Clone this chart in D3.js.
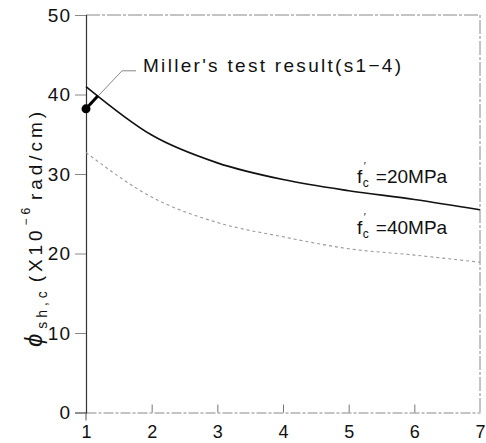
<!DOCTYPE html>
<html>
<head>
<meta charset="utf-8">
<script src="https://cdn.jsdelivr.net/npm/d3@7"></script>
<style>
  html, body { margin: 0; padding: 0; background: #fff; }
  svg { display: block; font-family: "Liberation Sans", Arial, sans-serif; }
</style>
</head>
<body>
<svg id="chart" width="486" height="443"></svg>
<script>
// ---- data ----
const xValues = [1, 2, 3, 4, 5, 6, 7];
const fc20 = [41.0, 34.9, 31.4, 29.3, 27.9, 26.8, 25.5];
const fc40 = [32.7, 27.1, 23.9, 22.1, 20.6, 19.8, 18.9];
const millerX = [1];
const millerY = [38.2];
const xTicks = [1, 2, 3, 4, 5, 6, 7];
const yTicks = [0, 10, 20, 30, 40, 50];
const seriesLabels = ["20MPa", "40MPa"];
const millerLabel = "Miller's test result(s1\u22124)";

// ---- layout ----
const svg = d3.select("#chart");
const x = d3.scaleLinear().domain([1, 7]).range([86, 480]);
const y = d3.scaleLinear().domain([0, 50]).range([412.5, 15]);

// frame (top and right borders)
svg.append("path")
  .attr("d", `M${x(1)},${y(50)}H${x(7)}V${y(0)}`)
  .attr("fill", "none").attr("stroke", "#888").attr("stroke-width", 1)
  .attr("stroke-dasharray", "14,2,3,2");

// bottom axis
const xAxis = d3.axisBottom(x).tickValues(xTicks).tickSize(0).tickPadding(0).tickFormat(d3.format("d"));
const gx = svg.append("g").attr("transform", `translate(0,${y(0)})`).call(xAxis);
gx.select(".domain").attr("stroke", "#888").attr("stroke-dasharray", "10,2,3,2");
gx.selectAll(".tick text").attr("font-size", 18).attr("fill", "#111")
  .attr("font-family", "Liberation Sans, Arial, sans-serif").attr("y", 25.5).attr("dy", 0);
// inward x ticks
gx.selectAll(".tick").filter(d => d > 1 && d < 7).append("line")
  .attr("y1", 0).attr("y2", -8).attr("stroke", "#777").attr("stroke-width", 1);
// downward tick at x=1
svg.append("line").attr("x1", x(1)).attr("x2", x(1)).attr("y1", y(0)).attr("y2", y(0) + 8)
  .attr("stroke", "#555");

// left axis
const yAxis = d3.axisLeft(y).tickValues(yTicks).tickSize(11).tickPadding(4).tickFormat(d3.format("d"));
const gy = svg.append("g").attr("transform", `translate(${x(1)},0)`).call(yAxis);
gy.select(".domain").attr("stroke", "#333").attr("stroke-width", 1.2);
gy.selectAll(".tick line").attr("stroke", "#888");
gy.selectAll(".tick text").attr("font-size", 19).attr("fill", "#111")
  .attr("font-family", "Liberation Sans, Arial, sans-serif").attr("letter-spacing", 1);

// curves
const line = d3.line().x((d, i) => x(xValues[i])).y(d => y(d)).curve(d3.curveMonotoneX);
svg.append("path").datum(fc20).attr("d", line)
  .attr("fill", "none").attr("stroke", "#111").attr("stroke-width", 1.6);
svg.append("path").datum(fc40).attr("d", line)
  .attr("fill", "none").attr("stroke", "#999").attr("stroke-width", 1.1)
  .attr("stroke-dasharray", "3,3");

// Miller point + leader
const mx = x(millerX[0]), my = y(millerY[0]);
svg.append("polyline")
  .attr("points", `${mx},${my} ${mx + 36},${my - 38} ${mx + 50},${my - 38}`)
  .attr("fill", "none").attr("stroke", "#888").attr("stroke-width", 1);
svg.append("line").attr("x1", mx).attr("y1", my).attr("x2", mx + 12).attr("y2", my - 13)
  .attr("stroke", "#000").attr("stroke-width", 3);
svg.append("circle").attr("cx", mx).attr("cy", my).attr("r", 4.5).attr("fill", "#000");
svg.append("text").attr("x", mx + 57).attr("y", my - 37)
  .attr("font-size", 19).attr("fill", "#111")
  .attr("textLength", 258).attr("lengthAdjust", "spacing")
  .text(millerLabel);

// series labels
function fcLabel(yBase, label) {
  const t = svg.append("text").attr("x", 357).attr("y", yBase).attr("font-size", 19).attr("fill", "#111");
  t.append("tspan").text("f");
  t.append("tspan").attr("font-size", 12).attr("dx", 0.5).attr("dy", 4).text("c");
  t.append("tspan").attr("font-size", 11).attr("dx", -5).attr("dy", -17).text("\u2032");
  t.append("tspan").attr("dx", 10).attr("dy", 13).text("=" + label);
}
fcLabel(183, seriesLabels[0]);
fcLabel(234, seriesLabels[1]);

// y axis title (built left to right in rotated frame)
const yt = svg.append("text")
  .attr("transform", "translate(42,0) rotate(-90)")
  .attr("x", -347).attr("y", 0)
  .attr("font-size", 19).attr("fill", "#111");
yt.append("tspan").attr("font-size", 24).attr("font-style", "italic").text("\u03D5");
yt.append("tspan").attr("font-size", 14).attr("dy", 5).attr("dx", 1).text("sh,c");
yt.append("tspan").attr("dy", -5).attr("dx", 5).text("(X10");
yt.append("tspan").attr("font-size", 12).attr("dy", -12).attr("dx", 1).text("\u22126");
yt.append("tspan").attr("dy", 12).attr("dx", 4).text("rad/cm)");
// stretch to reference length
const bb = yt.node().getComputedTextLength();
yt.attr("textLength", 235).attr("lengthAdjust", "spacing");
</script>
</body>
</html>
